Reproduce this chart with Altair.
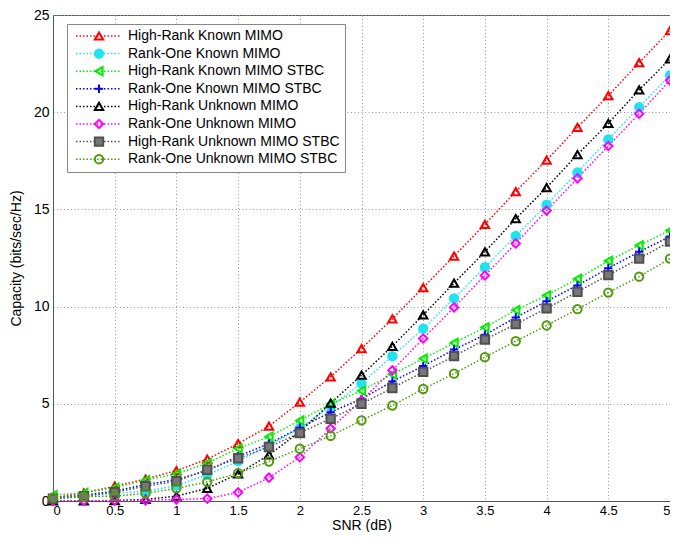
import altair as alt
import pandas as pd

snr = [0, 0.25, 0.5, 0.75, 1, 1.25, 1.5, 1.75, 2, 2.25, 2.5, 2.75, 3, 3.25, 3.5, 3.75, 4, 4.25, 4.5, 4.75, 5]

names = [
    "High-Rank Known MIMO",
    "Rank-One Known MIMO",
    "High-Rank Known MIMO STBC",
    "Rank-One Known MIMO STBC",
    "High-Rank Unknown MIMO",
    "Rank-One Unknown MIMO",
    "High-Rank Unknown MIMO STBC",
    "Rank-One Unknown MIMO STBC",
]

hr_known = [0.15, 0.42, 0.76, 1.13, 1.56, 2.15, 2.95, 3.85, 5.08, 6.39, 7.84, 9.37, 10.98, 12.6, 14.23, 15.92, 17.53, 19.22, 20.85, 22.55, 24.2]
r1_known = [0.1, 0.22, 0.4, 0.5, 0.8, 1.35, 2.05, 2.85, 3.75, 4.85, 6.05, 7.45, 8.87, 10.42, 12.03, 13.63, 15.24, 16.9, 18.6, 20.26, 21.9]
hr_known_stbc = [0.3, 0.42, 0.68, 1.07, 1.4, 1.95, 2.7, 3.31, 4.14, 5.0, 5.67, 6.52, 7.32, 8.13, 8.93, 9.82, 10.58, 11.43, 12.35, 13.15, 13.92]
r1_known_stbc = [0.15, 0.3, 0.51, 0.85, 1.1, 1.56, 2.3, 2.95, 3.77, 4.57, 5.25, 6.15, 6.94, 7.79, 8.55, 9.44, 10.28, 11.09, 11.97, 12.82, 13.6]
hr_unknown = [0.0, 0.0, 0.02, 0.08, 0.25, 0.65, 1.4, 2.37, 3.56, 5.03, 6.47, 7.96, 9.57, 11.21, 12.82, 14.52, 16.12, 17.82, 19.43, 21.15, 22.74]
r1_unknown = [0.0, 0.0, 0.03, 0.03, 0.08, 0.12, 0.44, 1.2, 2.25, 3.73, 5.17, 6.72, 8.36, 9.96, 11.6, 13.25, 14.94, 16.6, 18.26, 19.92, 21.64]
hr_unknown_stbc = [0.12, 0.25, 0.45, 0.76, 1.02, 1.61, 2.2, 2.78, 3.5, 4.23, 5.0, 5.81, 6.64, 7.45, 8.3, 9.1, 9.91, 10.76, 11.62, 12.47, 13.34]
r1_unknown_stbc = [0.17, 0.22, 0.25, 0.39, 0.65, 0.98, 1.43, 2.03, 2.69, 3.35, 4.15, 4.91, 5.76, 6.55, 7.4, 8.22, 9.03, 9.87, 10.72, 11.54, 12.47]

series_values = [hr_known, r1_known, hr_known_stbc, r1_known_stbc,
                 hr_unknown, r1_unknown, hr_unknown_stbc, r1_unknown_stbc]

colors = ["#ff0000", "#1fe3f0", "#00ee00", "#0000ff", "#000000", "#ff00ff", "#505050", "#4f9a0a"]
fills = ["transparent", "#1fe3f0", "transparent", "transparent", "transparent", "transparent", "#777777", "transparent"]
shapes = ["triangle-up", "circle", "triangle-left", "M-1,0H1M0,-1V1", "triangle-up", "diamond", "square", "circle"]

x_ticks = [0, 0.5, 1, 1.5, 2, 2.5, 3, 3.5, 4, 4.5, 5]
y_ticks = [0, 5, 10, 15, 20, 25]

rows = []
for name, vals in zip(names, series_values):
    for xv, yv in zip(snr, vals):
        rows.append({"snr": xv, "cap": yv, "series": name, "series_line": name})
df = pd.DataFrame(rows)

FONT = "Liberation Sans"
LEG_FS = 14
ROW_H = 14
ROW_PAD = 3.6

x_enc = alt.X("snr:Q", scale=alt.Scale(domain=[0, 5], nice=False),
              axis=alt.Axis(values=x_ticks, format="~g", title="SNR (dB)"))
y_enc = alt.Y("cap:Q", scale=alt.Scale(domain=[0, 25], nice=False),
              axis=alt.Axis(values=y_ticks, title="Capacity (bits/sec/Hz)"))

lines = alt.Chart(df).mark_line(strokeDash=[1.5, 2], strokeWidth=1.5).encode(
    x=x_enc,
    y=y_enc,
    color=alt.Color("series_line:N", sort=names,
                    scale=alt.Scale(range=colors),
                    legend=alt.Legend(
                        title=None, orient="none", legendX=14, legendY=9,
                        symbolType="M-1,0H1", symbolSize=2025, symbolStrokeWidth=1.5,
                        symbolDash=[1.5, 2], symbolOffset=3, labelOffset=6,
                        labelFont=FONT, labelFontSize=LEG_FS, labelColor="#000000",
                        fillColor="white", strokeColor="#888888", padding=5,
                        rowPadding=ROW_PAD, clipHeight=ROW_H, labelLimit=400,
                    )),
    order=alt.Order("snr:Q"),
)

marker_legend = alt.Legend(
    title=None, orient="none", legendX=14, legendY=9,
    symbolSize=70, symbolStrokeWidth=2, symbolOffset=20, labelOffset=6,
    labelFont=FONT, labelFontSize=LEG_FS, labelExpr="''",
    padding=5, rowPadding=ROW_PAD, clipHeight=ROW_H,
)

points = alt.Chart(df).mark_point(size=70, strokeWidth=2, opacity=1).encode(
    x=x_enc,
    y=y_enc,
    stroke=alt.Stroke("series:N", scale=alt.Scale(domain=names, range=colors), legend=marker_legend),
    fill=alt.Fill("series:N", scale=alt.Scale(domain=names, range=fills), legend=marker_legend),
    shape=alt.Shape("series:N", scale=alt.Scale(domain=names, range=shapes), legend=marker_legend),
)

chart = alt.layer(lines, points).properties(
    width=617,
    height=486,
    autosize=alt.AutoSizeParams(type="none"),
    padding={"left": 45, "top": 7, "right": 0, "bottom": 31},
).configure_view(
    stroke="#555555", strokeWidth=1
).configure_axis(
    labelFont=FONT, labelFontSize=14, labelColor="#000000",
    titleFont=FONT, titleFontSize=14, titleFontWeight="normal", titleColor="#000000",
    domainColor="#555555", grid=True, gridColor="#999999", gridDash=[1, 2.5],
    ticks=False, labelPadding=4,
).configure_axisX(
    labelFontSize=13, labelPadding=3, titlePadding=1,
).configure_axisY(
    titlePadding=10,
)

chart.save("out.html", embed_options={"renderer": "svg", "actions": False})
